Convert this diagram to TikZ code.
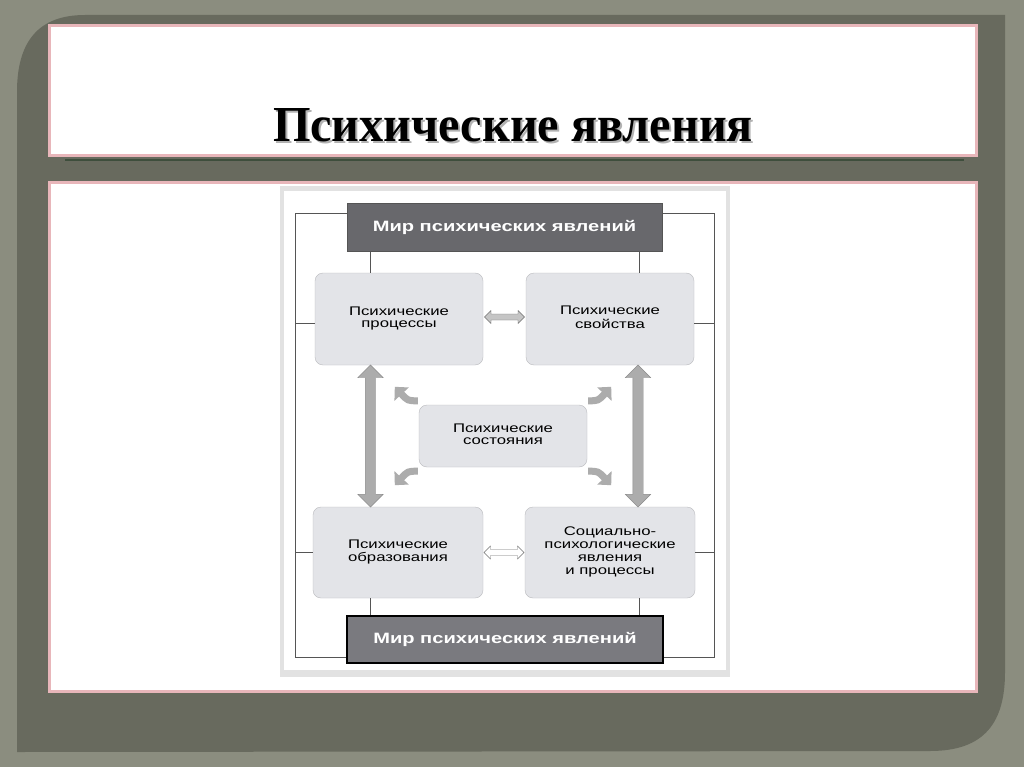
\documentclass[tikz,border=0pt]{standalone}
\usepackage{fontspec}
\setmainfont{Liberation Serif}
\newfontfamily\diagfont{Liberation Sans}
\usepackage{graphicx}
\usetikzlibrary{shapes.arrows,calc,arrows.meta}

\definecolor{bgouter}{RGB}{139,141,127}
\definecolor{bgpanel}{RGB}{104,106,94}
\definecolor{pinkb}{RGB}{232,182,186}
\definecolor{rulec}{RGB}{62,78,60}
\definecolor{boxfill}{RGB}{227,228,232}
\definecolor{boxline}{RGB}{185,186,190}
\definecolor{mirtop}{RGB}{104,104,108}
\definecolor{mirbot}{RGB}{122,122,127}
\definecolor{framec}{RGB}{85,85,85}
\definecolor{arrfill}{RGB}{172,172,172}
\definecolor{arrline}{RGB}{140,140,140}
\definecolor{papershade}{RGB}{226,226,226}

\newcommand{\wx}[1]{\scalebox{1.34}[1]{#1}}

\begin{document}
\begin{tikzpicture}[x=1pt,y=-1pt,
  lbox/.style={draw=boxline, fill=boxfill, rounded corners=8pt, minimum width=168pt,
    minimum height=92pt, inner sep=0pt, font=\diagfont\fontsize{12.5}{12.5}\selectfont},
  mirtopbox/.style={draw=framec, fill=mirtop, minimum width=315pt, minimum height=48pt,
    inner sep=0pt, text=white, font=\diagfont\bfseries\fontsize{15}{15}\selectfont},
  mirbotbox/.style={draw=black, line width=2pt, fill=mirbot, minimum width=316pt, minimum height=47pt,
    inner sep=0pt, text=white, font=\diagfont\bfseries\fontsize{15}{15}\selectfont},
  framebox/.style={draw=framec, line width=0.9pt, minimum width=419pt, minimum height=444pt, inner sep=0pt},
  conn/.style={draw=framec, line width=0.9pt},
  bigarrow/.style={double arrow, draw=arrline, fill=arrfill, minimum height=142pt,
    double arrow head extend=7.5pt, double arrow head indent=0pt, rotate=90,
    inner xsep=0pt, inner ysep=5pt},
  harrow/.style={double arrow, draw=arrline!80!black, minimum height=40pt,
    double arrow head extend=3.5pt, double arrow head indent=0pt,
    inner xsep=0pt, inner ysep=2.8pt},
  cornerarrow/.style={draw=arrfill, line width=7pt, -{Triangle[width=19pt,length=10pt]}},
  titlefont/.style={font=\bfseries, inner sep=0pt, anchor=base}
]
\useasboundingbox (0,0) rectangle (1024,767);
% background
\fill[bgouter] (0,0) rectangle (1024,767);
\fill[bgpanel] (17,752) -- (17,92) .. controls (17,42) and (38,15) .. (85,15) -- (1005,15)
  -- (1005,672) .. controls (1005,722) and (985,751) .. (930,751) -- cycle;
% title box
\draw[pinkb, line width=3pt, fill=white] (49,26) rectangle (976,156);
\draw[rulec, line width=1.5pt] (65,160) -- (964,160);
\node[titlefont, text=gray!60] (titleshadow) at (515,144)
  {\resizebox{480pt}{33pt}{Психические явления}};
\node[titlefont] (title) at (513,142)
  {\resizebox{480pt}{33pt}{Психические явления}};
% content box
\draw[pinkb, line width=3pt, fill=white] (49,183) rectangle (976,691);
% paper with shadow
\fill[papershade] (280,186) rectangle (730,677);
\fill[white] (284,191) rectangle (726,670);

% frame
\node[framebox] (fr) at (504.5,435) {};
% nodes
\node[mirtopbox] (mt) at (504.5,227) {\wx{Мир психических явлений}};
\node[mirbotbox] (mb) at (505,639.5) {\wx{Мир психических явлений}};
\node[lbox] (p) at (399,319) {\wx{\begin{tabular}{@{}c@{}}Психические\\процессы\end{tabular}}};
\node[lbox] (s) at (610,319) {\wx{\begin{tabular}{@{}c@{}}Психические\\свойства\end{tabular}}};
\node[lbox, minimum width=170pt, minimum height=91pt] (o) at (398,552.5)
  {\wx{\begin{tabular}{@{}c@{}}Психические\\образования\end{tabular}}};
\node[lbox, minimum width=170pt, minimum height=91pt, font=\diagfont\fontsize{12.5}{13}\selectfont] (soc) at (610,552.5)
  {\wx{\begin{tabular}{@{}c@{}}Социально-\\психологические\\явления\\и процессы\end{tabular}}};
\node[lbox, minimum height=62pt, font=\diagfont\fontsize{12.5}{11.5}\selectfont] (st) at (503,436)
  {\wx{\begin{tabular}{@{}c@{}}Психические\\состояния\end{tabular}}};

% connectors to the "world" boxes
\draw[conn] ([xshift=-29pt]p.north) -- ([xshift=-29pt]p.north |- mt.south);
\draw[conn] ([xshift=29pt]s.north) -- ([xshift=29pt]s.north |- mt.south);
\draw[conn] ([xshift=-28pt]o.south) -- ([xshift=-28pt]o.south |- mb.north);
\draw[conn] ([xshift=29pt]soc.south) -- ([xshift=29pt]soc.south |- mb.north);
% side connectors to the frame
\draw[conn] ([yshift=-4pt]p.west) -- ([yshift=-4pt]p.west -| fr.west);
\draw[conn] ([yshift=-4pt]s.east) -- ([yshift=-4pt]s.east -| fr.east);
\draw[conn] (o.west) -- (o.west -| fr.west);
\draw[conn] (soc.east) -- (soc.east -| fr.east);

% horizontal double arrows
\node[harrow, fill=arrfill!70] (h1) at ($(p.east)!0.5!(s.west)+(0,-2)$) {};
\node[harrow, fill=white] (h2) at ($(o.east)!0.5!(soc.west)$) {};
% vertical double arrows
\node[bigarrow] (v1) at ($(p.south)!0.5!(o.north)+(-28,0)$) {};
\node[bigarrow] (v2) at ($(s.south)!0.5!(soc.north)+(28,0)$) {};

% corner arrows from the states box
\draw[cornerarrow] ($(st.north west)+(-1,-4)$) .. controls ($(st.north west)+(-11,-4)$) .. ($(st.north west)+(-24,-18)$);
\draw[cornerarrow] ($(st.north east)+(1,-4)$) .. controls ($(st.north east)+(11,-4)$) .. ($(st.north east)+(24,-18)$);
\draw[cornerarrow] ($(st.south west)+(-1,4)$) .. controls ($(st.south west)+(-11,4)$) .. ($(st.south west)+(-24,18)$);
\draw[cornerarrow] ($(st.south east)+(1,4)$) .. controls ($(st.south east)+(11,4)$) .. ($(st.south east)+(24,18)$);
\end{tikzpicture}
\end{document}
